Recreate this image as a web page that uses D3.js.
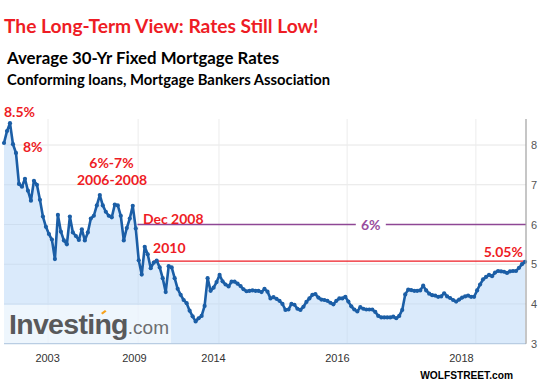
<!DOCTYPE html>
<html><head><meta charset="utf-8">
<script src="https://cdn.jsdelivr.net/npm/d3@7"></script>
<style>html,body{margin:0;padding:0;background:#fff;}svg{display:block;}</style>
</head><body>
<svg id="c" width="540" height="385"></svg>
<script>
// Average 30-yr fixed mortgage rate (%), sampled evenly along the chart's (non-linear) time axis
const rates = [
8.05,8.35,8.55,8.02,7.8,7.02,6.95,7.15,6.85,6.6,
7.1,7.0,6.62,6.2,5.94,5.76,5.62,5.13,6.24,5.82,
5.6,5.5,6.2,5.8,5.71,5.61,5.88,5.6,5.8,6.15,
6.22,6.48,6.74,6.48,6.32,6.22,6.18,6.5,6.48,6.22,
5.6,5.91,6.15,6.47,5.9,5.1,4.74,5.44,5.25,4.9,
5.04,5.09,4.92,4.65,4.3,4.95,4.92,4.65,4.38,4.23,
4.1,4.02,3.83,3.69,3.56,3.64,3.7,3.95,4.65,4.33,
4.41,4.55,4.73,4.57,4.49,4.44,4.56,4.56,4.51,4.45,
4.37,4.32,4.33,4.34,4.33,4.33,4.3,4.38,4.31,4.14,
4.17,4.13,4.08,4.0,3.85,3.86,4.0,3.98,3.88,3.85,
3.93,4.05,4.14,4.23,4.25,4.16,4.11,4.1,4.08,4.03,
3.99,4.08,4.14,4.14,4.18,4.06,3.94,3.86,3.81,3.92,
3.88,3.86,3.86,3.86,3.8,3.7,3.66,3.66,3.66,3.66,
3.68,3.64,3.7,3.85,4.24,4.36,4.35,4.33,4.33,4.34,
4.46,4.34,4.26,4.22,4.21,4.18,4.19,4.27,4.19,4.15,
4.1,4.06,4.11,4.16,4.19,4.21,4.18,4.18,4.34,4.49,
4.62,4.68,4.73,4.7,4.79,4.83,4.82,4.81,4.78,4.82,
4.83,4.83,4.91,5.0,5.06
];
// x-axis tick labels and their position along the series index
const xTickLabels = ["2003","2009","2014","2016","2018"];
const xTickIdx    = [14.4, 43.4, 69.8, 111.2, 152.6];
const xGridIdx    = [14.7, 44.8, 71.8, 114.6, 157.6];
const yTicks = [3,4,5,6,7,8];

const annoText  = ["8.5%","8%","6%-7%","2006-2008","Dec 2008","2010"];
const annoIdx   = [0, 6.35, 35.9, 36.1, 46.4, 49.8];
const annoVal   = [8.84, 7.96, 7.55, 7.12, 6.16, 5.42];
const annoAnchor= ["start","start","middle","middle","start","start"];

const refSixVal = 6, refSixStartIdx = 44.6;
const refNowVal = 5.08, refNowStartIdx = 49.8;

const svg = d3.select("#c");
const X0 = 4, X1 = 525, PR = 526, PT = 119, PB = 343.7;
const x = d3.scaleLinear().domain([0, rates.length-1]).range([X0, X1]);
const y = d3.scaleLinear().domain([3, 8]).range([PB, 145]);

// gridlines
const g = svg.append("g");
g.selectAll("line.h").data([4,5,6,7,8]).join("line")
  .attr("x1", X0).attr("x2", PR).attr("y1", d=>y(d)).attr("y2", d=>y(d))
  .attr("stroke", "#e6e6e6").attr("stroke-width", 1);
g.selectAll("line.v").data(xGridIdx).join("line")
  .attr("x1", d=>x(d)).attr("x2", d=>x(d)).attr("y1", PT).attr("y2", PB)
  .attr("stroke", "#ececec").attr("stroke-width", 1);

// area
const area = d3.area().x((d,i)=>x(i)).y0(PB).y1(d=>y(d));
svg.append("path").datum(rates).attr("d", area)
  .attr("fill", "#b5d5f7").attr("fill-opacity", 0.5);

// logo box
svg.append("rect").attr("x", X0).attr("y", 305).attr("width", 167).attr("height", PB-305)
  .attr("fill", "#fff").attr("fill-opacity", 0.55);
const logo = svg.append("text").attr("x", 9).attr("y", 333.5)
  .attr("font-family", "Liberation Sans, Arial, sans-serif");
logo.append("tspan").text("Investing").attr("font-size", 28.5).attr("font-weight", "bold")
  .attr("fill", "#58595b").attr("letter-spacing", -0.7);
logo.append("tspan").text(".com").attr("font-size", 19).attr("fill", "#6d6e70");
svg.append("path").attr("d", "M101,313 l4,-3 l1.5,1.5 l-4,3 z").attr("fill", "#f7a21b");

// bottom axis line
svg.append("line").attr("x1", X0).attr("x2", PR).attr("y1", PB).attr("y2", PB)
  .attr("stroke", "#b9cde3").attr("stroke-width", 1.2);

// reference lines
svg.append("line").attr("x1", x(refSixStartIdx)).attr("x2", PR)
  .attr("y1", y(refSixVal)).attr("y2", y(refSixVal))
  .attr("stroke", "#8e4795").attr("stroke-width", 1.3);
svg.append("line").attr("x1", x(refNowStartIdx)).attr("x2", PR)
  .attr("y1", y(refNowVal)).attr("y2", y(refNowVal))
  .attr("stroke", "#ee1c25").attr("stroke-width", 1.3);

// series line
const line = d3.line().x((d,i)=>x(i)).y(d=>y(d));
svg.append("path").datum(rates).attr("d", line)
  .attr("fill", "none").attr("stroke", "#1b5ea6").attr("stroke-width", 2.6)
  .attr("stroke-linejoin", "round");
svg.append("g").selectAll("circle").data(rates).join("circle")
  .attr("cx", (d,i)=>x(i)).attr("cy", d=>y(d)).attr("r", 2.1).attr("fill", "#1b5ea6");

// right axis
svg.append("line").attr("x1", PR).attr("x2", PR).attr("y1", PT).attr("y2", PB)
  .attr("stroke", "#a0a0a0").attr("stroke-width", 1.2);
const yAxis = d3.axisRight(y).tickValues(yTicks).tickSize(0).tickPadding(5).tickFormat(d3.format("d"));
const ya = svg.append("g").attr("transform", `translate(${PR},0)`).call(yAxis);
ya.select(".domain").remove();
ya.selectAll("text").attr("font-family", "Liberation Sans, Arial, sans-serif")
  .attr("font-size", 11).attr("fill", "#555");

// bottom axis labels
const xa = d3.axisBottom(x).tickValues(xTickIdx).tickSize(0).tickPadding(11)
  .tickFormat((d,i)=>xTickLabels[i]);
const xg = svg.append("g").attr("transform", `translate(0,${PB})`).call(xa);
xg.select(".domain").remove();
xg.selectAll("text").attr("font-family", "Liberation Sans, Arial, sans-serif")
  .attr("font-size", 11).attr("fill", "#333");

// annotations
const F = "Lato, 'Open Sans', sans-serif";
svg.append("g").selectAll("text").data(annoText).join("text")
  .attr("x", (d,i)=>x(annoIdx[i])).attr("y", (d,i)=>y(annoVal[i]))
  .attr("text-anchor", (d,i)=>annoAnchor[i]).attr("dominant-baseline", "central")
  .attr("font-family", F).attr("font-weight", "bold").attr("font-size", 14)
  .attr("fill", "#ee1c25").text(d=>d);

// 6% label with white gap
const sixX = x(122.5);
svg.append("rect").attr("x", sixX-15).attr("y", y(6)-8).attr("width", 30).attr("height", 16).attr("fill", "#fff");
svg.append("text").attr("x", sixX).attr("y", y(6)).attr("text-anchor", "middle")
  .attr("dominant-baseline", "central").attr("font-family", F).attr("font-weight", "bold")
  .attr("font-size", 14).attr("fill", "#994c9e").text("6%");
svg.append("text").attr("x", x(173.3)).attr("y", y(5.31)).attr("text-anchor", "end")
  .attr("dominant-baseline", "central").attr("font-family", F).attr("font-weight", "bold")
  .attr("font-size", 14).attr("fill", "#ee1c25").text("5.05%");

// titles
svg.append("text").attr("x", 4).attr("y", 33).attr("font-family", F).attr("font-weight", "bold")
  .attr("font-size", 19.2).attr("fill", "#ee1c25").text("The Long-Term View: Rates Still Low!");
svg.append("text").attr("x", 7).attr("y", 64).attr("font-family", F).attr("font-weight", "bold")
  .attr("font-size", 16.8).attr("fill", "#000").text("Average 30-Yr Fixed Mortgage Rates");
svg.append("text").attr("x", 7).attr("y", 85).attr("font-family", F).attr("font-weight", "bold")
  .attr("font-size", 14.8).attr("fill", "#000").text("Conforming loans, Mortgage Bankers Association");
svg.append("text").attr("x", 513).attr("y", 379).attr("text-anchor", "end")
  .attr("font-family", "Liberation Sans, Arial, sans-serif")
  .attr("font-weight", "bold").attr("font-size", 10.2).attr("fill", "#000").text("WOLFSTREET.com");
</script>
</body></html>
